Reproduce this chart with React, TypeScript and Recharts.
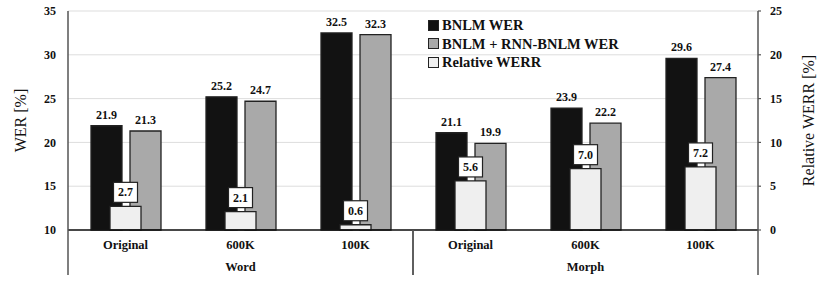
import React from 'react';
import { BarChart, Bar, XAxis, YAxis, CartesianGrid, Legend, LabelList } from 'recharts';

// categories and groups
const categories = ['Original', '600K', '100K', 'Original', '600K', '100K'];
const groups = ['Word', 'Word', 'Word', 'Morph', 'Morph', 'Morph'];

// series values
const bnlmWer = [21.9, 25.2, 32.5, 21.1, 23.9, 29.6];
const rnnWer = [21.3, 24.7, 32.3, 19.9, 22.2, 27.4];
const relWerr = [2.7, 2.1, 0.6, 5.6, 7.0, 7.2];

const werTicks = [10, 15, 20, 25, 30, 35];
const werrTicks = [0, 5, 10, 15, 20, 25];

const FONT = '"Liberation Serif", "Times New Roman", serif';

const data = categories.map((c, i) => ({
  key: `${groups[i]}-${c}`,
  category: c,
  group: groups[i],
  bnlm: bnlmWer[i],
  rnn: rnnWer[i],
  werr: relWerr[i],
}));

const legendItems = [
  { label: 'BNLM WER', fill: '#121212' },
  { label: 'BNLM + RNN-BNLM WER', fill: '#a9a9a9' },
  { label: 'Relative WERR', fill: '#efefef' },
];

const CategoryTick = ({ x, y, index }: any) => (
  <text x={x} y={y + 19} textAnchor="middle" fontFamily={FONT} fontWeight="bold" fontSize={12.5} fill="#111">
    {categories[index]}
  </text>
);

const GroupTick = ({ x, y, payload }: any) => {
  const half = payload?.offset ?? 172.5;
  return (
    <g>
      <line x1={x - half} x2={x - half} y1={y - 22} y2={y + 23} stroke="#555" strokeWidth={1.5} />
      <line x1={x + half} x2={x + half} y1={y - 22} y2={y + 23} stroke="#555" strokeWidth={1.5} />
      <text x={x} y={y + 19} textAnchor="middle" fontFamily={FONT} fontWeight="bold" fontSize={12.5} fill="#111">
        {payload.value}
      </text>
    </g>
  );
};

const WerrLabel = ({ x, y, width, value }: any) => {
  const cx = x + width / 2;
  return (
    <g>
      <rect x={cx - 12} y={y - 24} width={24} height={20} fill="#fff" stroke="#222" strokeWidth={1.2} />
      <text x={cx} y={y - 10} textAnchor="middle" fontFamily={FONT} fontWeight="bold" fontSize={12} fill="#111">
        {Number(value).toFixed(1)}
      </text>
    </g>
  );
};

const LegendBox = () => (
  <div style={{ fontFamily: FONT, fontWeight: 'bold', fontSize: 14.5, color: '#111', lineHeight: '18.5px' }}>
    {legendItems.map((it) => (
      <div key={it.label} style={{ display: 'flex', alignItems: 'center' }}>
        <span
          style={{
            display: 'inline-block',
            width: 9,
            height: 9,
            background: it.fill,
            border: '1.2px solid #222',
            marginRight: 3,
          }}
        />
        {it.label}
      </div>
    ))}
  </div>
);

const App = () => (
  <div style={{ position: 'absolute', left: 0, top: 0, background: '#fff' }}>
    <BarChart
      width={830}
      height={282}
      data={data}
      margin={{ top: 11, right: 12, left: 8, bottom: 2 }}
      barGap={8}
    >
      <CartesianGrid yAxisId="wer" xAxisId="cat" vertical={false} stroke="#dddddd" strokeWidth={1} />
      <XAxis
        xAxisId="cat"
        dataKey="key"
        height={22}
        tickLine={false}
        tickSize={0}
        tickMargin={0}
        axisLine={{ stroke: '#111', strokeWidth: 1.3 }}
        tick={<CategoryTick />}
        interval={0}
      />
      <XAxis
        xAxisId="grp"
        dataKey="group"
        allowDuplicatedCategory={false}
        height={28}
        tickLine={false}
        tickSize={0}
        tickMargin={0}
        axisLine={false}
        tick={<GroupTick />}
        interval={0}
      />
      <XAxis xAxisId="werrAxis" dataKey="key" hide height={0} />
      <YAxis
        yAxisId="wer"
        domain={[10, 35]}
        ticks={werTicks}
        width={60}
        tickLine={false}
        tickSize={0}
        tickMargin={12}
        axisLine={{ stroke: '#555', strokeWidth: 1.5 }}
        tick={{ fontFamily: FONT, fontWeight: 'bold', fontSize: 12, fill: '#111' }}
        label={{
          content: ({ viewBox }: any) => (
            <text
              x={viewBox.x + 12}
              y={viewBox.y + viewBox.height / 2}
              transform={`rotate(-90 ${viewBox.x + 12} ${viewBox.y + viewBox.height / 2})`}
              textAnchor="middle"
              dominantBaseline="central"
              fontFamily={FONT}
              fontSize={16}
              fill="#111"
            >
              WER [%]
            </text>
          ),
        }}
      />
      <YAxis
        yAxisId="werr"
        orientation="right"
        domain={[0, 25]}
        ticks={werrTicks}
        width={60}
        tickSize={3}
        tickMargin={9}
        tickLine={{ stroke: '#555', strokeWidth: 1.2 }}
        axisLine={{ stroke: '#555', strokeWidth: 1.5 }}
        tick={{ fontFamily: FONT, fontWeight: 'bold', fontSize: 12, fill: '#111' }}
        label={{
          content: ({ viewBox }: any) => (
            <text
              x={viewBox.x + 50}
              y={viewBox.y + viewBox.height / 2}
              transform={`rotate(-90 ${viewBox.x + 50} ${viewBox.y + viewBox.height / 2})`}
              textAnchor="middle"
              dominantBaseline="central"
              fontFamily={FONT}
              fontSize={16}
              fill="#111"
            >
              Relative WERR [%]
            </text>
          ),
        }}
      />
      <Legend
        layout="vertical"
        align="center"
        verticalAlign="middle"
        content={<LegendBox />}
        wrapperStyle={{ left: 428, top: 16, width: 'auto' }}
      />
      <Bar
        xAxisId="cat"
        yAxisId="wer"
        dataKey="bnlm"
        name="BNLM WER"
        fill="#121212"
        stroke="#222"
        strokeWidth={1.3}
        barSize={31}
        isAnimationActive={false}
      >
        <LabelList dataKey="bnlm" position="top" offset={7} fontFamily={FONT} fontWeight="bold" fontSize={12} fill="#111" />
      </Bar>
      <Bar
        xAxisId="cat"
        yAxisId="wer"
        dataKey="rnn"
        name="BNLM + RNN-BNLM WER"
        fill="#a9a9a9"
        stroke="#222"
        strokeWidth={1.3}
        barSize={31}
        isAnimationActive={false}
      >
        <LabelList dataKey="rnn" position="top" offset={7} fontFamily={FONT} fontWeight="bold" fontSize={12} fill="#111" />
      </Bar>
      <Bar
        xAxisId="werrAxis"
        yAxisId="werr"
        dataKey="werr"
        name="Relative WERR"
        fill="#efefef"
        stroke="#222"
        strokeWidth={1.3}
        barSize={31}
        isAnimationActive={false}
      >
        <LabelList dataKey="werr" content={<WerrLabel />} />
      </Bar>
    </BarChart>
  </div>
);

export default App;
